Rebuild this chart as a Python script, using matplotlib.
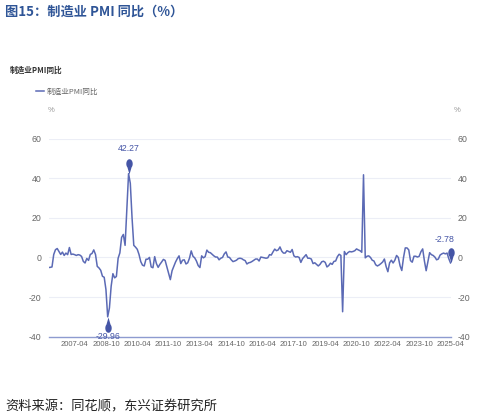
import numpy as np
import pandas as pd
import matplotlib
matplotlib.use("Agg")
import matplotlib.pyplot as plt
from matplotlib.path import Path

# 制造业PMI同比 (%), monthly from 2006-01 to 2025-04
start_month = "2006-01"
yoy = [
    -5.1, -5.0, -4.8, 1.5, 3.9, 4.5, 3.0, 1.5, 2.7, 1.0, 2.2, 1.4,            # 2006
    5.0, 1.5, 1.7, 1.4, 1.0, 1.4, 1.2, 0.5, -2.0, -2.8, -0.5, -1.5,           # 2007
    1.5, 2.0, 3.8, 1.5, -4.5, -5.3, -6.5, -9.5, -10.0, -16.2, -29.96, -25.5,  # 2008
    -14.5, -8.2, -10.3, -9.6, -0.4, 2.3, 10.1, 11.6, 6.1, 23.8, 42.27, 37.4,  # 2009
    20.0, 6.1, 5.2, 4.1, 1.5, -2.1, -3.9, -4.3, -0.9, -0.9, 0.0, -4.8,        # 2010
    -5.2, 0.4, -3.1, -5.0, -3.5, -2.3, -1.0, -1.5, -4.8, -7.9, -11.2, -6.7,   # 2011
    -4.5, -2.3, -0.6, 0.8, -3.1, -1.4, -1.2, -3.3, -2.7, -0.4, 3.3, 0.6,      # 2012
    -0.2, -1.8, -4.1, -5.1, 0.8, -0.2, 0.4, 3.7, 2.6, 2.4, 1.6, 0.8,          # 2013
    0.2, 0.2, -1.2, -0.4, 0.0, 1.8, 2.8, 0.2, 0.0, -1.2, -2.1, -1.8,          # 2014
    -1.4, -0.6, -0.4, -0.6, -1.2, -1.6, -3.3, -2.7, -2.5, -2.0, -1.4, -0.8,   # 2015
    -0.8, -1.8, 0.2, 0.0, -0.2, -0.4, -0.2, 1.4, 1.2, 2.8, 4.2, 3.4,          # 2016
    3.8, 5.3, 3.2, 2.2, 2.2, 3.4, 3.0, 2.6, 4.0, 0.8, 0.2, 0.4,               # 2017
    0.0, -2.5, -0.6, 0.4, 1.4, -0.4, -0.4, -0.8, -3.1, -2.7, -3.5, -4.3,      # 2018
    -3.5, -2.2, -1.9, -2.5, -4.8, -4.1, -2.9, -3.5, -2.0, -1.8, 0.4, 1.6,     # 2019
    1.0, -27.4, 3.0, 1.4, 2.4, 3.0, 2.8, 3.0, 3.4, 4.3, 3.8, 3.4,             # 2020
    2.6, 41.7, -0.2, 0.6, 0.8, 0.0, -1.4, -1.8, -3.7, -4.3, -3.8, -3.1,       # 2021
    -2.3, -0.8, -4.6, -7.2, -2.7, -1.4, -2.8, -1.4, 1.0, 0.0, -4.2, -6.6,     # 2022
    0.0, 4.8, 4.8, 3.8, -1.6, -2.4, 0.6, 0.6, 0.2, 0.6, 2.9, 4.3,             # 2023
    -1.8, -6.7, -2.1, 2.4, 1.4, 1.0, 0.2, -1.2, -0.8, 1.2, 1.8, 2.2,          # 2024
    1.8, 2.2, -0.6, -2.78,                                                    # 2025
]
y_ticks = [-40, -20, 0, 20, 40, 60]
first_label = 15
label_step = 18

plt.rcParams["font.family"] = ["Liberation Sans", "Noto Sans CJK SC", "DejaVu Sans"]
plt.rcParams["axes.unicode_minus"] = False
cjk = ["Noto Sans CJK SC", "DejaVu Sans"]
line_color = "#5b6ab5"
mark_color = "#4555a6"
text_gray = "#666666"

months = pd.date_range(start_month, periods=len(yoy), freq="MS").strftime("%Y-%m")
x = np.arange(len(yoy))

fig = plt.figure(figsize=(4.92, 4.20), dpi=100)
ax = fig.add_axes([0.0986, 0.1983, 0.8171, 0.4719])

ax.plot(x, yoy, color=line_color, lw=1.1, zorder=3)

ax.set_xlim(0, len(yoy) - 1)
ax.set_ylim(-40, 60)
ax.set_yticks(y_ticks)
ax.tick_params(axis="y", length=0, pad=5, labelsize=6.3, labelcolor=text_gray,
               labelleft=True, labelright=True)
tick_pos = list(range(first_label, len(yoy), label_step))
ax.set_xticks(tick_pos)
ax.set_xticklabels([months[i] for i in tick_pos], fontsize=5.5, color=text_gray)
ax.tick_params(axis="x", length=0, pad=3)
for yv in y_ticks[1:]:
    ax.axhline(yv, color="#eceef6", lw=0.8, zorder=1)
for side in ["top", "left", "right"]:
    ax.spines[side].set_visible(False)
ax.spines["bottom"].set_color("#8e9bd0")
ax.spines["bottom"].set_linewidth(1.0)

# pin shaped markers, tip on the data point
ang = np.radians(np.linspace(-50, 230, 40))
bulb = np.column_stack([0.9 * np.cos(ang), 3.0 + 1.3 * np.sin(ang)])
verts = np.vstack([[0, 0], bulb, [0, 0]])
pin_down = Path(verts, closed=True)
pin_up = Path(verts * [1, -1], closed=True)

i_max = int(np.argmax(yoy))
i_min = int(np.argmin(yoy))
i_last = len(yoy) - 1
ax.plot(i_max, yoy[i_max], marker=pin_down, ms=22, color=mark_color, mew=0, zorder=4, clip_on=False)
ax.plot(i_last, yoy[i_last], marker=pin_down, ms=22, color=mark_color, mew=0, zorder=4, clip_on=False)
ax.plot(i_min, yoy[i_min], marker=pin_up, ms=22, color=mark_color, mew=0, zorder=4, clip_on=False)
ax.annotate(f"{yoy[i_max]:.2f}", (i_max, yoy[i_max]), xytext=(0, 18), textcoords="offset points",
            ha="center", va="center", fontsize=6.3, color=mark_color)
ax.annotate(f"{yoy[i_min]:.2f}", (i_min, yoy[i_min]), xytext=(0, -14), textcoords="offset points",
            ha="center", va="center", fontsize=6.3, color=mark_color, annotation_clip=False)
ax.annotate(f"{yoy[i_last]:.2f}", (i_last, yoy[i_last]), xytext=(-4, 17), textcoords="offset points",
            ha="center", va="center", fontsize=6.3, color=mark_color)

# texts around the plot
fig.text(5 / 492, 1 - 12 / 420, "图15：制造业 PMI 同比（%）", fontsize=9.5, fontweight="bold",
         color="#2f5597", family=cjk, va="center", ha="left")
fig.text(10 / 492, 1 - 70 / 420, "制造业PMI同比", fontsize=5.5, fontweight="bold", color="#333333",
         family=cjk, va="center", ha="left")
fig.text(51 / 492, 1 - 111 / 420, "%", fontsize=5.5, color="#999999", va="center", ha="center")
fig.text(457 / 492, 1 - 111 / 420, "%", fontsize=5.5, color="#999999", va="center", ha="center")
leg = ax.legend(["制造业PMI同比"], loc="center left", bbox_to_anchor=(36 / 492, 1 - 92 / 420),
                bbox_transform=fig.transFigure, frameon=False, handlelength=1.0,
                handletextpad=0.4, borderpad=0, borderaxespad=0,
                prop={"family": cjk, "size": 5.5})
for t in leg.get_texts():
    t.set_color(text_gray)
fig.text(5 / 492, 1 - 407 / 420, "资料来源：同花顺，东兴证券研究所", fontsize=9.5,
         color="#222222", family=cjk, va="center", ha="left")

fig.savefig("out.png", dpi=100)
